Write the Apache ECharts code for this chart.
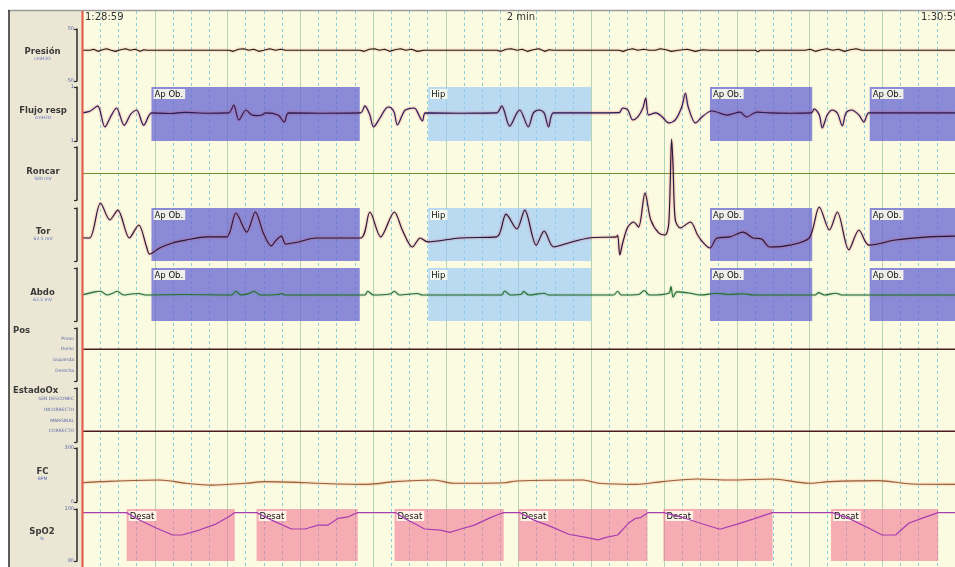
<!DOCTYPE html>
<html><head><meta charset="utf-8">
<script src="https://cdn.jsdelivr.net/npm/echarts@6/dist/echarts.min.js"></script>
<style>html,body{margin:0;padding:0;background:#fff}#c{width:955px;height:567px}</style>
</head><body><div id="c"></div>
<script>
// ---------- DATA ----------
const headerLabels = ['1:28:59', '2 min', '1:30:59'];
const channelNames = ['Presión', 'Flujo resp', 'Roncar', 'Tor', 'Abdo', 'Pos', 'EstadoOx', 'FC', 'SpO2'];
const channelUnits = ['cmH2O', 'cmH2O', '500 mV', '62.5 mV', '62.5 mV', '', '', 'BPM', '%'];
const posLabels = ['Derecha', 'Izquierda', 'Dorso', 'Prono'];            // levels 1..4
const oxLabels = ['CORRECTO', 'MARGINAL', 'INCORRECTO', 'SEN DESCONEC']; // levels 1..4

const presionData = [[0,9],[1.1,9],[1.6,11],[2.2,7],[2.8,10],[3.4,12],[4.0,9],[4.6,7],[5.3,10],[6.0,12],[6.6,9],[7.3,11],[8.0,7],[8.5,10],[9.0,9],
 [20.2,9],[20.8,7],[21.5,11],[22.2,12],[22.9,9],[23.6,11],[24.3,7],[25.0,9],[25.8,12],[26.6,9],[27.3,11],[28.0,9],
 [38.2,9],[38.8,7],[39.5,11],[40.2,12],[40.9,9],[41.6,11],[42.3,7],[43.0,10],[43.8,12],[44.5,9],[45.3,11],[46.1,7],[47.0,9],
 [57.0,9],[57.6,7],[58.3,11],[59.0,12],[59.8,9],[60.5,11],[61.2,7],[62.0,10],[62.8,12],[63.6,7],[64.2,10],[64.8,9],
 [73.8,9],[74.4,7],[75.0,10],[75.7,12],[76.4,9],[77.2,11],[78.0,9],[78.8,9],[79.5,12],[80.3,10],[81.0,7],[82.0,9],[83.2,11],[84.3,7],[85.3,10],[86.3,9],[87.3,9],
 [92.6,9],[92.9,6],[93.2,9],
 [99.4,9],[100.1,11],[100.8,7],[101.6,10],[102.4,12],[103.2,9],[104.0,11],[104.8,7],[105.6,10],[106.4,12],[107.2,9],[107.9,9],
 [120,9]];

const flujoData = [[0,0.04],[1.06,0.1],[2.15,0.3],[3.14,-0.48],[4.03,-0.05],[4.73,0.22],[5.81,-0.42],[6.71,0.0],[7.5,0.15],[8.49,-0.42],[9.58,0.04],
 [12.15,0.02],[14.13,0.06],[17.1,0.03],[20.17,0.04],[20.86,0.33],[21.56,-0.22],[22.55,0.15],[23.34,-0.04],[24.03,-0.06],[24.72,-0.04],[25.22,0.04],[27.0,-0.05],[27.79,-0.3],[28.39,0.04],
 [32.94,0.03],[38.29,0.04],[38.88,0.3],[39.57,-0.04],[40.07,-0.48],[40.96,-0.15],[42.05,0.26],[42.54,0.22],[42.94,0.04],[43.34,-0.41],[44.03,-0.04],[44.43,0.15],[45.71,0.22],[46.11,0.07],[46.8,-0.26],[47.2,0.04],
 [51.75,0.03],[57.0,0.04],[57.69,0.3],[58.78,-0.45],[59.77,0.04],[60.17,0.15],[61.35,-0.48],[62.05,0.04],[62.84,0.15],[63.53,0.04],[64.13,-0.48],[64.82,0.04],
 [69.57,0.04],[73.83,0.05],[74.32,0.22],[75.02,0.15],[75.71,-0.22],[76.4,-0.11],[77.1,0.22],[77.49,0.59],[77.89,-0.04],[78.88,0.04],[79.77,-0.11],[80.66,-0.33],[81.55,-0.22],[82.44,0.26],[82.94,0.78],[83.33,0.26],[84.32,-0.33],[85.21,-0.11],[86.1,0.07],[86.6,0.11],
 [88.68,-0.04],[90.46,0.07],[91.35,-0.11],[92.74,0.07],[94.52,0.04],[97.29,0.03],[100.26,0.04],[100.66,0.19],[101.35,-0.04],[101.75,-0.52],[102.44,-0.04],[103.13,0.15],[103.82,0.04],[104.52,-0.44],[105.01,0.04],[105.8,0.15],[106.8,-0.04],[107.49,-0.3],[108.18,0.04],
 [114.12,0.04],[120,0.04]];

const roncarData = [[0,0],[120,0]];

const torData = [[0,-0.12],[1.06,-0.13],[2.55,1.19],[3.83,0.55],[4.92,0.92],[6.51,-0.13],[7.79,0.36],[8.88,-0.47],[9.28,-0.74],[10.67,-0.51],[12.45,-0.32],[14.33,-0.21],[17.1,-0.09],[19.87,-0.09],
 [21.16,0.81],[22.65,0.09],[23.83,0.85],[24.92,0.06],[26.01,-0.43],[26.7,-0.21],[27.4,-0.06],[27.99,-0.36],[29.77,-0.28],[32.15,-0.13],[38.29,-0.13],
 [39.57,0.85],[41.06,-0.09],[42.94,0.85],[44.03,0.17],[45.41,-0.47],[46.5,-0.13],[47.49,-0.28],[51.95,-0.13],[57.0,-0.09],
 [58.29,0.77],[59.77,0.21],[60.86,0.92],[62.44,-0.4],[63.53,0.13],[64.82,-0.47],[66.9,-0.32],[69.67,-0.13],[73.43,-0.09],
 [73.63,-0.02],[73.93,-0.77],[74.32,-0.32],[75.02,0.28],[75.81,0.47],[76.5,0.28],[77.39,1.57],[78.18,0.55],[79.27,0.06],[80.16,-0.02],[80.66,0.43],[81.05,3.6],[81.25,2.55],[81.55,0.55],[82.24,0.25],[83.63,0.47],[84.62,-0.02],[85.41,-0.32],[86.3,-0.51],[87.29,-0.13],
 [89.07,-0.09],[90.86,0.09],[92.24,-0.13],[93.43,-0.17],[94.52,-0.47],[97.29,-0.4],[99.96,-0.13],[101.35,1.04],[102.74,0.17],[103.82,0.85],[105.41,-0.58],[106.8,0.17],[108.18,-0.4],[111.84,-0.21],[116.4,-0.09],[120,-0.06]];

const abdoData = [[0,-0.02],[1.76,0.1],[2.55,0.12],[3.44,-0.02],[4.23,0.05],[4.82,0.12],[5.72,-0.02],[6.71,0.02],[7.79,0.04],[8.69,-0.02],[14,0.0],
 [20.57,-0.02],[21.16,0.12],[21.85,-0.02],[23.04,0.05],[23.63,0.12],[24.53,-0.02],[27.0,0.0],[27.4,0.04],[27.99,-0.02],
 [38.88,-0.02],[39.28,0.12],[40.07,-0.02],[42.35,0.02],[42.94,0.12],[43.63,-0.02],[46.11,0.04],[46.8,-0.02],
 [57.69,-0.02],[58.09,0.13],[58.88,-0.02],[60.46,0.02],[60.66,0.12],[61.45,-0.02],[63.53,0.05],[64.13,-0.02],
 [73.04,-0.02],[73.63,0.12],[74.12,-0.02],[76.5,0.0],[77.29,0.15],[77.99,-0.02],[80.66,0.05],[80.96,0.3],[81.25,-0.1],[81.75,0.1],[83.63,0.05],[84.92,-0.02],[87.39,0.05],[88.88,0.0],[90.86,0.03],[92.34,-0.02],
 [100.76,-0.02],[101.25,0.07],[102.04,-0.02],[103.63,0.05],[104.42,-0.02],[120,-0.02]];

const posData = [[0,'Dorso'],[120,'Dorso']];
const oxData = [[0,'CORRECTO'],[120,'CORRECTO']];

const fcData = [[0,107],[2.45,113],[10.67,122],[14.33,104],[17.89,94],[22.45,104],[25.22,113],[29.67,109],[32.35,104],[39.28,98],[42.94,113],[48.38,122],[51.06,104],[57.99,107],[59.77,117],[68.88,122],[71.06,104],[76.1,98],[79.77,113],[84.52,128],[89.07,122],[94.91,128],[99.96,104],[102.74,113],[109.57,119],[114.02,100],[120,98]];

const spo2Data = [[0,98.6],[6.11,98.6],[7.89,95.8],[10.27,92.6],[12.45,90.0],[13.73,90.0],[16.11,91.9],[18.39,94.2],[20.17,97.0],[20.96,98.6],
 [24.03,98.6],[26.01,95.8],[28.78,92.3],[30.66,92.3],[32.45,93.8],[33.83,93.8],[35.22,96.4],[36.6,97.0],[37.89,98.6],
 [43.14,98.6],[44.33,96.4],[45.81,94.2],[47.1,92.3],[49.28,91.9],[50.56,91.0],[51.95,92.2],[53.93,93.8],[55.91,96.4],[57.39,98.1],[57.99,98.6],
 [60.17,98.6],[62.05,95.8],[64.23,93.5],[66.9,90.3],[69.27,89.1],[70.96,88.1],[72.05,89.1],[73.63,90.0],[75.11,94.5],[76.1,96.4],[76.8,96.7],[77.79,98.6],
 [79.97,98.6],[82.24,97.0],[85.01,94.5],[87.69,92.2],[90.06,94.2],[92.24,96.1],[94.91,98.6],
 [103.13,98.6],[105.41,96.4],[108.18,92.6],[109.96,90.0],[111.84,90.0],[113.63,94.5],[115.41,96.4],[117.69,98.6],[120,98.6]];

const respEventLabels = ['Ap Ob.', 'Hip', 'Ap Ob.', 'Ap Ob.'];
const respEventStart = [9.55, 47.59, 86.32, 108.28];
const respEventEnd = [38.18, 69.96, 100.37, 120];
const desatLabel = 'Desat';
const desatStart = [6.14, 24.0, 42.96, 60.0, 79.92, 102.96];
const desatEnd = [21.0, 37.91, 57.96, 77.73, 94.92, 117.69];

// ---------- LAYOUT / STYLE ----------
const PL = 82, PW = 880;
const rowTop = [29, 87, 147, 208, 268, 328, 388, 448, 509];
const rowH = [52, 54, 53, 53, 53, 53, 54, 54, 52];
const rowRange = [[-50,50],[-1,1],[-1,1],[-1,1],[-1,1],[0,5],[0,5],[0,300],[80,100]];
const AP_COLOR = 'rgba(100,100,210,0.75)';
const HIP_COLOR = 'rgba(150,200,250,0.65)';
const DESAT_COLOR = 'rgba(240,110,140,0.55)';
const FONT = 'DejaVu Sans';

const chart = echarts.init(document.getElementById('c'), null, {renderer: 'canvas'});

const grids = [{left: PL, width: PW, top: 11, bottom: 0, show: true, backgroundColor: '#fbfbe2', borderWidth: 0}];
const xAxes = [{
  type: 'value', gridIndex: 0, min: 0, max: 120, interval: 10,
  axisLine: {show: false}, axisTick: {show: false}, axisLabel: {show: false},
  splitLine: {show: true, lineStyle: {color: '#b5d4b5', width: 1}},
  minorTick: {show: false, splitNumber: 4},
  minorSplitLine: {show: true, lineStyle: {color: '#8ccfdb', width: 1, type: [3, 3]}}
}];
const yAxes = [{type: 'value', gridIndex: 0, show: false}];

function labelValues(i) {
  if (i === 0) return [-50, 50];
  if (i === 1) return [-1, 1];
  if (i === 5 || i === 6) return [1, 2, 3, 4];
  if (i === 7) return [0, 300];
  if (i === 8) return [80, 100];
  return [];
}
for (let i = 0; i < 9; i++) {
  grids.push({left: PL, width: PW, top: rowTop[i], height: rowH[i], show: false});
  xAxes.push({type: 'value', gridIndex: i + 1, min: 0, max: 120, show: false});
  const lv = labelValues(i);
  yAxes.push({
    type: 'value', gridIndex: i + 1, min: rowRange[i][0], max: rowRange[i][1], offset: 5,
    axisLine: {show: true, onZero: false, lineStyle: {color: '#2b2b2b', width: 1.5}},
    axisTick: {show: true, inside: false, length: 3, customValues: [rowRange[i][0], rowRange[i][1]], lineStyle: {color: '#2b2b2b', width: 1.2}},
    axisLabel: {
      show: lv.length > 0, customValues: lv, margin: 3, fontSize: (i === 5 || i === 6) ? 4.5 : 5,
      color: '#5d6aa8', fontFamily: FONT,
      formatter: (v) => i === 5 ? posLabels[v - 1] : (i === 6 ? oxLabels[v - 1] : String(v))
    },
    splitLine: {show: false}
  });
}

const evLabel = {show: true, position: 'insideTopLeft', distance: 2, fontSize: 8.5, fontFamily: FONT, color: '#111',
  backgroundColor: 'rgba(255,255,238,0.85)', padding: [1, 2, 0, 1]};
function respAreas() {
  return respEventLabels.map((n, k) => [
    {xAxis: respEventStart[k], name: n, itemStyle: {color: n === 'Hip' ? HIP_COLOR : AP_COLOR}},
    {xAxis: respEventEnd[k]}
  ]);
}
const desatAreas = desatStart.map((s, k) => [{xAxis: s, name: desatLabel, itemStyle: {color: DESAT_COLOR}}, {xAxis: desatEnd[k]}]);

function line(idx, data, color, extra) {
  return Object.assign({
    type: 'line', xAxisIndex: idx, yAxisIndex: idx, data: data, symbol: 'none', silent: true, animation: false,
    lineStyle: {color: color, width: 1}
  }, extra || {});
}
const halo = (c, col) => ({color: c, width: 1.1, shadowColor: col, shadowBlur: 2});

const series = [
  line(1, presionData, '#222', {lineStyle: halo('#222', 'rgba(230,110,80,0.9)')}),
  line(2, flujoData, '#1b2160', {smooth: 0.3, lineStyle: halo('#1b2160', 'rgba(220,50,60,0.9)'),
    markArea: {silent: true, label: evLabel, data: respAreas()}}),
  line(3, roncarData, '#6b8e2f'),
  line(4, torData, '#1b1d40', {smooth: 0.3, clip: false, lineStyle: halo('#1b1d40', 'rgba(230,60,70,0.9)'),
    markArea: {silent: true, label: evLabel, data: respAreas()}}),
  line(5, abdoData, '#2c6a34', {smooth: 0.3, lineStyle: halo('#2c6a34', 'rgba(60,160,90,0.7)'),
    markArea: {silent: true, label: evLabel, data: respAreas()}}),
  line(6, posData.map(d => [d[0], posLabels.indexOf(d[1]) + 1]), '#4a1e1e', {lineStyle: {color: '#4a1e1e', width: 1.5}}),
  line(7, oxData.map(d => [d[0], oxLabels.indexOf(d[1]) + 1]), '#4a1e1e', {lineStyle: {color: '#4a1e1e', width: 1.5}}),
  line(8, fcData, '#a86a48', {smooth: 0.3, lineStyle: halo('#9a6040', 'rgba(240,150,90,0.9)')}),
  line(9, spo2Data, '#a83cb0', {lineStyle: {color: '#a83cb0', width: 1.2},
    markArea: {silent: true, label: evLabel, data: desatAreas}})
];

const graphics = [
  {type: 'rect', z: -100, shape: {x: 9, y: 11, width: 73, height: 556}, style: {fill: '#ece7d4'}},
  {type: 'line', z: 100, shape: {x1: 8, y1: 10.5, x2: 955, y2: 10.5}, style: {stroke: '#9a9a9a', lineWidth: 1.5}},
  {type: 'line', z: 100, shape: {x1: 9, y1: 10, x2: 9, y2: 567}, style: {stroke: '#2a2a2a', lineWidth: 1.5}},
  {type: 'line', z: 100, shape: {x1: 82.5, y1: 11, x2: 82.5, y2: 567}, style: {stroke: '#e2604c', lineWidth: 2.2}},
  {type: 'text', z: 100, x: 85, y: 17, style: {text: headerLabels[0], font: '10px ' + FONT, fill: '#333', textVerticalAlign: 'middle'}},
  {type: 'text', z: 100, x: 521, y: 17, style: {text: headerLabels[1], font: '10px ' + FONT, fill: '#333', textAlign: 'center', textVerticalAlign: 'middle'}},
  {type: 'text', z: 100, x: 921, y: 17, style: {text: headerLabels[2], font: '10px ' + FONT, fill: '#333', textVerticalAlign: 'middle'}}
];
const labelPos = [[42.5,51.5],[43,110.5],[43,171.5],[43,232],[42.5,293],[13,331],[13,391],[42.5,471.5],[42,531.5]];
channelNames.forEach((n, i) => {
  const leftAligned = (i === 5 || i === 6);
  graphics.push({type: 'text', z: 100, x: labelPos[i][0], y: labelPos[i][1],
    style: {text: n, font: 'bold 8.5px ' + FONT, fill: '#3a3a3a', textAlign: leftAligned ? 'left' : 'center', textVerticalAlign: 'middle'}});
  if (channelUnits[i]) {
    graphics.push({type: 'text', z: 100, x: labelPos[i][0], y: labelPos[i][1] + 7,
      style: {text: channelUnits[i], font: '4.5px ' + FONT, fill: '#5a6cc0', textAlign: 'center', textVerticalAlign: 'middle'}});
  }
});

chart.setOption({
  animation: false,
  backgroundColor: '#ffffff',
  grid: grids, xAxis: xAxes, yAxis: yAxes, series: series, graphic: graphics
});
</script></body></html>
